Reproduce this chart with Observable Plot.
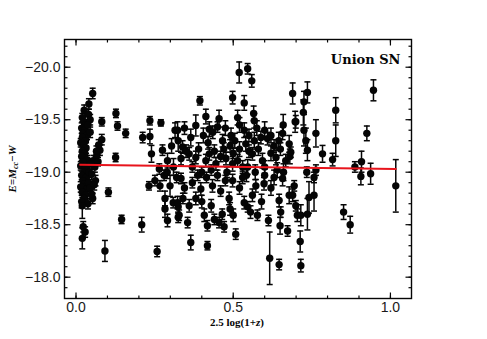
<!DOCTYPE html>
<html><head><meta charset="utf-8">
<script src="https://cdn.jsdelivr.net/npm/d3@7"></script>
<script src="https://cdn.jsdelivr.net/npm/@observablehq/plot@0.6"></script>
<style>body{margin:0;background:#fff}</style>
</head><body><div id="chart"></div>
<script>
// x = 2.5 log(1+z), y = E = M_cc - W, err = 1-sigma error bar
const xs = [
0.020,0.025,0.030,0.018,0.028,0.022,0.035,0.020,0.030,0.015,0.025,0.032,0.020,0.028,0.018,0.035,0.022,0.015,0.030,0.025,
0.018,0.033,0.022,0.028,0.015,0.035,0.020,0.030,0.025,0.018,0.038,0.020,0.029,0.023,0.020,0.026,0.041,0.053,0.040,0.045,
0.038,0.045,0.040,0.045,0.042,
0.055,0.066,0.076,0.082,0.082,0.060,0.050,0.053,0.050,0.062,0.070,0.048,0.058,0.072,0.065,
0.103,0.092,0.127,0.132,0.158,0.126,0.145,0.209,0.212,0.235,0.235,0.240,0.258,0.232,0.270,0.265,0.275,0.291,0.304,0.315,0.325,
0.251,0.267,0.283,0.291,0.283,0.299,0.309,0.325,0.325,0.280,0.290,0.310,0.320,
0.519,0.546,0.559,0.498,0.535,0.394,0.413,0.455,0.514,0.565,0.567,0.689,0.697,0.659,0.323,0.339,0.365,0.381,0.424,0.450,
0.466,0.493,0.535,0.540,0.567,0.588,0.609,0.630,0.657,0.678,0.381,0.424,0.477,0.514,0.561,0.593,0.636,0.667,0.334,0.360,
0.413,0.445,0.498,0.546,
0.350,0.370,0.390,0.400,0.420,0.430,0.440,0.460,0.470,0.480,0.490,0.500,0.520,0.530,0.550,0.570,0.580,0.600,0.620,0.640,
0.650,0.660,0.680,0.345,0.405,0.435,0.475,0.505,0.520,0.550,0.575,0.600,0.620,0.645,
0.334,0.365,0.418,0.616,0.646,0.612,0.649,0.673,0.651,0.646,0.598,0.577,0.546,0.508,0.500,0.471,0.455,0.418,0.408,0.355,
0.328,0.323,0.360,0.381,0.397,0.434,0.487,0.498,0.535,0.561,0.572,0.542,0.657,0.450,0.387,0.678,
0.345,0.370,0.400,0.415,0.430,0.460,0.475,0.490,0.520,0.530,0.555,0.590,0.620,0.630,0.600,0.340,0.465,0.440,
0.946,0.736,0.725,0.723,0.725,0.731,0.736,0.699,0.763,0.784,0.826,0.826,0.816,0.925,0.908,0.887,0.683,1.017,0.937,0.906,
0.851,0.872,0.715,0.713,0.704,0.715,0.736,0.741,0.757,0.757,0.734,0.763,0.689,0.699,0.694
];
const ys = [
-19.52,-19.48,-19.45,-19.42,-19.40,-19.37,-19.35,-19.33,-19.30,-19.28,-19.26,-19.23,-19.20,-19.18,-19.15,-19.12,-19.10,-19.06,-19.04,-19.00,
-18.97,-18.95,-18.92,-18.89,-18.86,-18.84,-18.81,-18.78,-18.75,-18.72,-18.70,-18.68,-18.43,-18.48,-18.37,-19.59,-19.65,-19.75,-19.55,-19.50,
-19.45,-19.38,-18.90,-18.85,-19.00,
-19.11,-19.16,-19.21,-19.31,-19.48,-19.05,-18.98,-18.75,-18.79,-18.92,-19.10,-19.08,-18.88,-19.26,-19.20,
-18.81,-18.25,-19.56,-19.44,-19.37,-19.14,-18.55,-18.50,-19.33,-19.49,-19.34,-19.175,-18.245,-18.87,-19.47,-19.03,-19.21,-19.11,-19.25,-19.40,-19.30,
-18.92,-18.87,-18.75,-18.54,-18.65,-18.87,-18.71,-18.57,-18.67,-18.97,-19.00,-19.05,-18.95,
-19.95,-19.985,-19.87,-19.71,-19.66,-19.68,-19.53,-19.51,-19.52,-19.56,-19.49,-19.75,-19.48,-19.45,-19.40,-19.24,-19.33,-19.445,-19.41,-19.43,
-19.30,-19.35,-19.40,-19.27,-19.30,-19.33,-19.32,-19.25,-19.37,-19.27,-19.14,-19.175,-19.13,-19.11,-19.175,-19.11,-19.14,-19.11,-19.13,-19.175,
-19.11,-19.08,-19.08,-19.05,
-19.20,-19.05,-19.22,-19.00,-19.28,-19.02,-19.20,-19.15,-19.22,-19.00,-19.25,-19.18,-19.22,-19.05,-19.20,-19.00,-19.22,-19.05,-19.18,-19.02,
-19.22,-19.00,-19.15,-19.42,-19.35,-19.38,-19.42,-19.30,-19.45,-19.35,-19.42,-19.40,-19.35,-19.30,
-18.94,-18.33,-18.30,-18.18,-18.12,-18.54,-18.49,-18.44,-18.62,-18.73,-18.89,-18.59,-18.67,-18.41,-18.59,-18.48,-18.52,-18.49,-18.59,-18.52,
-18.59,-18.71,-18.68,-18.75,-18.84,-18.87,-18.75,-18.92,-18.71,-18.78,-18.87,-18.97,-18.94,-18.97,-18.97,-18.78,
-18.85,-18.90,-18.72,-18.95,-18.68,-18.82,-18.92,-18.65,-18.85,-18.95,-18.62,-18.72,-18.85,-18.95,-18.97,-18.75,-18.60,-18.55,
-19.78,-19.76,-19.67,-19.57,-19.40,-19.30,-19.21,-19.48,-19.37,-19.175,-19.59,-19.30,-19.12,-19.37,-19.10,-19.05,-19.19,-18.87,-18.985,-18.96,
-18.62,-18.50,-18.11,-18.34,-18.59,-18.59,-18.60,-18.76,-18.78,-18.95,-19.00,-19.02,-18.78,-18.68,-18.87
];
const errs = [
0.04,0.05,0.04,0.05,0.04,0.05,0.04,0.04,0.05,0.04,0.04,0.05,0.04,0.05,0.04,0.04,0.05,0.04,0.04,0.05,
0.04,0.05,0.04,0.04,0.05,0.04,0.05,0.04,0.05,0.06,0.05,0.12,0.05,0.05,0.10,0.05,0.05,0.05,0.05,0.05,
0.05,0.05,0.05,0.05,0.05,
0.05,0.05,0.05,0.05,0.04,0.05,0.05,0.05,0.05,0.05,0.04,0.05,0.05,0.05,0.05,
0.04,0.10,0.04,0.04,0.04,0.04,0.04,0.07,0.05,0.04,0.07,0.08,0.05,0.04,0.03,0.05,0.05,0.07,0.07,0.07,0.10,
0.05,0.05,0.07,0.06,0.08,0.10,0.05,0.05,0.06,0.05,0.06,0.08,0.05,
0.10,0.05,0.06,0.06,0.07,0.04,0.07,0.08,0.07,0.07,0.07,0.10,0.10,0.10,0.08,0.06,0.08,0.10,0.07,0.05,
0.06,0.07,0.07,0.07,0.08,0.06,0.06,0.06,0.06,0.08,0.06,0.06,0.06,0.06,0.06,0.07,0.07,0.06,0.06,0.06,
0.06,0.06,0.07,0.07,
0.06,0.05,0.06,0.05,0.06,0.05,0.06,0.05,0.06,0.05,0.06,0.05,0.07,0.06,0.06,0.07,0.06,0.06,0.07,0.07,
0.06,0.08,0.07,0.06,0.07,0.06,0.07,0.07,0.07,0.06,0.07,0.08,0.07,0.08,
0.05,0.07,0.04,0.25,0.05,0.05,0.08,0.05,0.05,0.06,0.06,0.05,0.05,0.05,0.06,0.05,0.05,0.05,0.06,0.05,
0.05,0.06,0.06,0.06,0.06,0.06,0.06,0.06,0.06,0.06,0.06,0.06,0.07,0.05,0.05,0.08,
0.05,0.05,0.06,0.05,0.06,0.05,0.05,0.06,0.06,0.06,0.06,0.07,0.07,0.07,0.06,0.05,0.05,0.05,
0.10,0.10,0.10,0.12,0.15,0.12,0.10,0.06,0.13,0.08,0.12,0.15,0.06,0.07,0.10,0.05,0.05,0.25,0.10,0.08,
0.07,0.08,0.06,0.10,0.06,0.10,0.15,0.15,0.15,0.05,0.05,0.05,0.06,0.05,0.05
];
// best-fit line
const fitX = [0.013, 1.017];
const fitY = [-19.072, -19.030];
// ticks
const xMajor = [0.0, 0.5, 1.0];
const xMinor = [0.0,0.1,0.2,0.3,0.4,0.5,0.6,0.7,0.8,0.9,1.0];
const yMajor = [-20.0, -19.5, -19.0, -18.5, -18.0];
const yMinor = [-20.2,-20.1,-20.0,-19.9,-19.8,-19.7,-19.6,-19.5,-19.4,-19.3,-19.2,-19.1,-19.0,-18.9,-18.8,-18.7,-18.6,-18.5,-18.4,-18.3,-18.2,-18.1,-18.0,-17.9];
const annotation = "Union SN";

const xDom = [-0.0366, 1.067];
const yDom = [-17.797, -20.264];

const data = xs.map((x, i) => ({x, y: ys[i], e: errs[i]}));
const fit = fitX.map((x, i) => ({x, y: fitY[i]}));

const cap = {draw(c){ c.moveTo(-3, 0); c.lineTo(3, 0); }};
const tickSym = (dx, dy) => ({draw(c){ c.moveTo(0, 0); c.lineTo(dx, dy); }});
const ink = "#050505";
const tickMarks = (vals, len) => [
  Plot.dot(vals, {x: d => d, y: () => yDom[0], symbol: tickSym(0, -len), stroke: ink, fill: "none", strokeWidth: 1.2}),
  Plot.dot(vals, {x: d => d, y: () => yDom[1], symbol: tickSym(0, len), stroke: ink, fill: "none", strokeWidth: 1.2})
];
const tickMarksY = (vals, len) => [
  Plot.dot(vals, {y: d => d, x: () => xDom[0], symbol: tickSym(len, 0), stroke: ink, fill: "none", strokeWidth: 1.2}),
  Plot.dot(vals, {y: d => d, x: () => xDom[1], symbol: tickSym(-len, 0), stroke: ink, fill: "none", strokeWidth: 1.2})
];

const svg = Plot.plot({
  width: 487, height: 339,
  marginLeft: 64, marginRight: 76, marginTop: 39, marginBottom: 41,
  x: {domain: xDom},
  y: {domain: yDom},
  style: {fontFamily: "'Liberation Sans', Arial, sans-serif", fontSize: "14px", color: "#1a1a1a", background: "#fff", overflow: "visible"},
  marks: [
    Plot.ruleX(data, {x: "x", y1: d => d.y - d.e, y2: d => d.y + d.e, stroke: ink, strokeWidth: 1.5}),
    Plot.dot(data, {x: "x", y: d => d.y - d.e, symbol: cap, stroke: ink, fill: "none", strokeWidth: 1.5}),
    Plot.dot(data, {x: "x", y: d => d.y + d.e, symbol: cap, stroke: ink, fill: "none", strokeWidth: 1.5}),
    Plot.dot(data, {x: "x", y: "y", r: 3.7, fill: ink, stroke: "none"}),
    Plot.line(fit, {x: "x", y: "y", stroke: "#e8141c", strokeWidth: 2}),
    Plot.frame({stroke: ink, strokeWidth: 1.4}),
    ...tickMarks(xMinor, 3), ...tickMarks(xMajor, 6),
    ...tickMarksY(yMinor, 3), ...tickMarksY(yMajor, 6),
    Plot.axisX(xMajor, {anchor: "bottom", tickSize: 0, tickPadding: 4, tickFormat: d3.format(".1f"), label: null, fontSize: 14}),
    Plot.axisY(yMajor, {anchor: "left", tickSize: 0, tickPadding: 4, tickFormat: d3.format(".1f"), label: null, fontSize: 14}),
    Plot.text([annotation], {frameAnchor: "top-right", dx: -11, dy: 24, textAnchor: "end", lineAnchor: "bottom",
      fontFamily: "'DejaVu Serif', serif", fontWeight: "bold", fontSize: 13, fill: ink})
  ]
});

const s = d3.select(svg);
// x-axis title
const xt = s.append("text").attr("x", 237).attr("y", 326).attr("text-anchor", "middle")
  .attr("font-family", "'Liberation Serif', serif").attr("font-size", 11).attr("font-weight", "bold").attr("fill", ink);
xt.append("tspan").text("2.5 log(1+");
xt.append("tspan").attr("font-style", "italic").text("z");
xt.append("tspan").text(")");
// y-axis title
const yt = s.append("text").attr("transform", "translate(16,169) rotate(-90)").attr("text-anchor", "middle")
  .attr("font-family", "'Liberation Serif', serif").attr("font-style", "italic").attr("font-weight", "bold").attr("font-size", 11).attr("fill", ink);
yt.append("tspan").text("E=M");
yt.append("tspan").attr("font-size", 8).attr("dy", 2).text("cc");
yt.append("tspan").attr("dy", -2).text("−W");

document.getElementById("chart").appendChild(svg);
</script>
</body></html>
